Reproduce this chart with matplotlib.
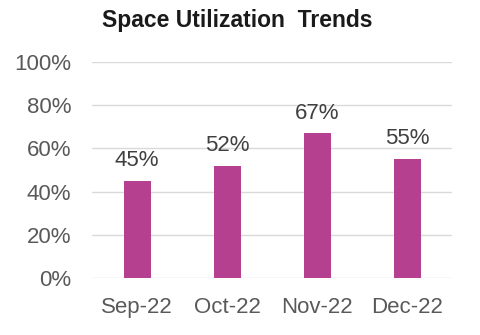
import matplotlib
matplotlib.use("Agg")
import matplotlib.pyplot as plt
from matplotlib.ticker import FuncFormatter

months = ["Sep-22", "Oct-22", "Nov-22", "Dec-22"]
utilization = [45, 52, 67, 55]
y_ticks = [0, 20, 40, 60, 80, 100]

plt.rcParams['font.family'] = ['Liberation Sans', 'DejaVu Sans']

fig = plt.figure(figsize=(4.8, 3.35), dpi=100)
ax = fig.add_axes([0.192, 0.170, 0.750, 0.645])

bars = ax.bar(range(len(months)), utilization, width=0.3, color="#B5408F", zorder=3)

for x, v in enumerate(utilization):
    ax.annotate(f"{v}%", (x, v), xytext=(0, 7), textcoords="offset points",
                ha="center", va="bottom", fontsize=16, color="#404040")

ax.set_xlim(-0.5, len(months) - 0.5)
ax.set_ylim(0, 100)
ax.set_yticks(y_ticks)
ax.yaxis.set_major_formatter(FuncFormatter(lambda v, p: f"{v:.0f}%"))
ax.set_xticks(range(len(months)))
ax.set_xticklabels(months)
ax.tick_params(axis="both", length=0, labelsize=16, labelcolor="#595959")
ax.tick_params(axis="y", pad=15)
ax.tick_params(axis="x", pad=14)

ax.grid(axis="y", color="#D9D9D9", linewidth=1, zorder=0)
for s in ax.spines.values():
    s.set_visible(False)

fig.text(0.494, 0.94, "Space Utilization  Trends", ha="center", va="center",
         fontsize=16.5, fontweight="bold", color="#1a1a1a")

fig.savefig("out.png", dpi=100)
